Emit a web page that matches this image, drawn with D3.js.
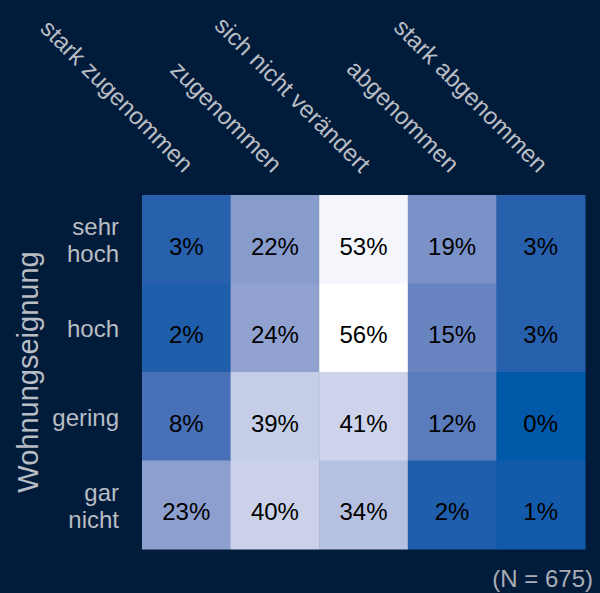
<!DOCTYPE html>
<html><head><meta charset="utf-8">
<script src="https://cdn.jsdelivr.net/npm/d3@7"></script>
<style>
html,body{margin:0;padding:0;background:#011b3a;}
svg{display:block;font-family:"Liberation Sans",Arial,sans-serif;}
</style></head>
<body>
<svg id="chart" width="600" height="593"></svg>
<script>
const columns = ["stark zugenommen","zugenommen","sich nicht verändert","abgenommen","stark abgenommen"];
const rows = [["sehr","hoch"],["hoch"],["gering"],["gar","nicht"]];
const rowKeys = ["sehr hoch","hoch","gering","gar nicht"];
const valuesSehrHoch = [3,22,53,19,3];
const valuesHoch = [2,24,56,15,3];
const valuesGering = [8,39,41,12,0];
const valuesGarNicht = [23,40,34,2,1];
const matrix = [valuesSehrHoch,valuesHoch,valuesGering,valuesGarNicht];
const yTitle = "Wohnungseignung";
const note = "(N = 675)";

const svg = d3.select("#chart");
const W = 600, H = 593;
svg.append("rect").attr("width",W).attr("height",H).attr("fill","#011b3a");

const gLeft = 142, gRight = 585, gTop = 195, gBottom = 549;
const x = d3.scaleBand().domain(columns).range([gLeft,gRight]).padding(0);
const y = d3.scaleBand().domain(rowKeys).range([gTop,gBottom]).padding(0);
const color = d3.scaleLinear().domain([0,28,56]).range(["#0058a8","#a2afd7","#ffffff"]).interpolate(d3.interpolateLab);

const cells = [];
matrix.forEach((r,i)=>r.forEach((v,j)=>cells.push({row:rowKeys[i],col:columns[j],v})));

svg.append("g").selectAll("rect").data(cells).join("rect")
  .attr("x",d=>x(d.col)).attr("y",d=>y(d.row))
  .attr("width",x.bandwidth()+0.5).attr("height",y.bandwidth()+0.5)
  .attr("fill",d=>color(d.v));

svg.append("g").selectAll("text").data(cells).join("text")
  .attr("x",d=>x(d.col)+x.bandwidth()/2).attr("y",d=>y(d.row)+y.bandwidth()/2+7)
  .attr("text-anchor","middle").attr("dominant-baseline","central")
  .attr("font-size",24).attr("fill","#000")
  .text(d=>d.v+"%");

const labelColor = "#b9bdc4";
svg.append("g").selectAll("text").data(columns).join("text")
  .attr("transform",d=>`translate(${x(d)+x.bandwidth()/2-3},${174}) rotate(45)`)
  .attr("text-anchor","end").attr("font-size",24).attr("fill",labelColor)
  .text(d=>d);

const rg = svg.append("g");
rows.forEach((lines,i)=>{
  const cy = y(rowKeys[i])+y.bandwidth()/2 + 1;
  const t = rg.append("text").attr("text-anchor","end").attr("font-size",24).attr("fill",labelColor);
  const n = lines.length;
  lines.forEach((l,k)=>{
    t.append("tspan").attr("x",119).attr("y",cy + (k-(n-1)/2)*27).attr("dominant-baseline","central").text(l);
  });
});

svg.append("text")
  .attr("transform",`translate(38,${(gTop+gBottom)/2}) rotate(-90)`)
  .attr("text-anchor","middle").attr("font-size",29).attr("fill",labelColor)
  .text(yTitle);

svg.append("text").attr("x",593).attr("y",587).attr("text-anchor","end")
  .attr("font-size",24).attr("fill","#a9aeb6").text(note);
</script>
</body></html>
